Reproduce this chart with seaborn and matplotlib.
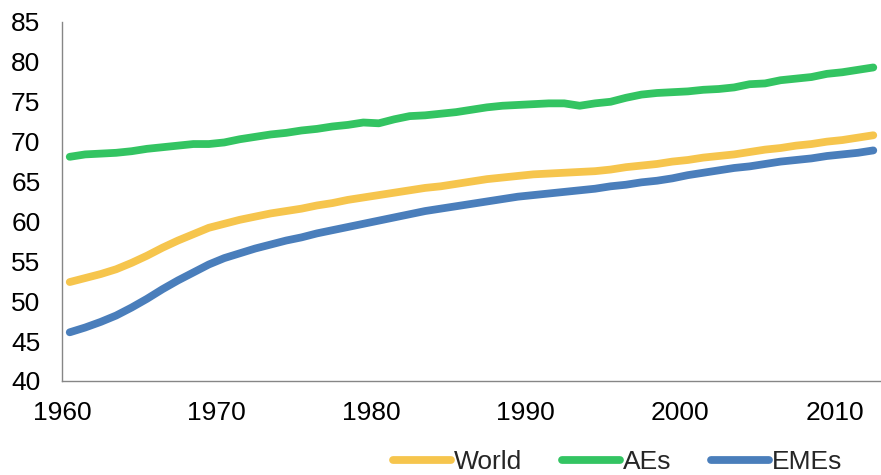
import numpy as np
import pandas as pd
import seaborn as sns
import matplotlib.pyplot as plt

# life expectancy, years 1960-2012
years = list(range(1960, 2013))

world = [52.4, 52.9, 53.4, 54.0, 54.8, 55.7, 56.7, 57.6, 58.4, 59.2,
         59.7, 60.2, 60.6, 61.0, 61.3, 61.6, 62.0, 62.3, 62.7, 63.0,
         63.3, 63.6, 63.9, 64.2, 64.4, 64.7, 65.0, 65.3, 65.5, 65.7,
         65.9, 66.0, 66.1, 66.2, 66.3, 66.5, 66.8, 67.0, 67.2, 67.5,
         67.7, 68.0, 68.2, 68.4, 68.7, 69.0, 69.2, 69.5, 69.7, 70.0,
         70.2, 70.5, 70.8]

aes = [68.1, 68.4, 68.5, 68.6, 68.8, 69.1, 69.3, 69.5, 69.7, 69.7,
       69.9, 70.3, 70.6, 70.9, 71.1, 71.4, 71.6, 71.9, 72.1, 72.4,
       72.3, 72.8, 73.2, 73.3, 73.5, 73.7, 74.0, 74.3, 74.5, 74.6,
       74.7, 74.8, 74.8, 74.5, 74.8, 75.0, 75.5, 75.9, 76.1, 76.2,
       76.3, 76.5, 76.6, 76.8, 77.2, 77.3, 77.7, 77.9, 78.1, 78.5,
       78.7, 79.0, 79.3]

emes = [46.1, 46.7, 47.4, 48.2, 49.2, 50.3, 51.5, 52.6, 53.6, 54.6,
        55.4, 56.0, 56.6, 57.1, 57.6, 58.0, 58.5, 58.9, 59.3, 59.7,
        60.1, 60.5, 60.9, 61.3, 61.6, 61.9, 62.2, 62.5, 62.8, 63.1,
        63.3, 63.5, 63.7, 63.9, 64.1, 64.4, 64.6, 64.9, 65.1, 65.4,
        65.8, 66.1, 66.4, 66.7, 66.9, 67.2, 67.5, 67.7, 67.9, 68.2,
        68.4, 68.6, 68.9]

series = ['World', 'AEs', 'EMEs']
colors = ['#F6C54D', '#33C462', '#4A7EBB']
decades = [1960, 1970, 1980, 1990, 2000, 2010]

df = pd.DataFrame({'year': years, 'World': world, 'AEs': aes, 'EMEs': emes})
df = df.melt(id_vars='year', var_name='series', value_name='value')

sns.set_style('white')
plt.rcParams['font.family'] = ['Liberation Sans', 'DejaVu Sans']

fig, ax = plt.subplots(figsize=(8.81, 4.75), dpi=100)
fig.subplots_adjust(left=0.0704, right=1.0, top=0.9537, bottom=0.198)

sns.lineplot(data=df, x='year', y='value', hue='series', hue_order=series,
             palette=colors, linewidth=5.6, legend=False, ax=ax,
             solid_capstyle='round')

# Excel-style category axis: ticks sit between categories
ax.set_xlim(1959.5, 2012.5)
ax.set_xticks([d - 0.5 for d in decades])
ax.set_xticklabels([str(d) for d in decades])
ax.set_ylim(40, 85)
ax.set_yticks(range(40, 90, 5))
ax.set_xlabel('')
ax.set_ylabel('')

for side in ['top', 'right']:
    ax.spines[side].set_visible(False)
for side in ['left', 'bottom']:
    ax.spines[side].set_color('#868686')
    ax.spines[side].set_linewidth(1.0)

ax.tick_params(axis='both', direction='out', length=5.5, width=1.0,
               color='#868686', labelsize=19, labelcolor='black')
ax.tick_params(axis='y', pad=10)
ax.tick_params(axis='x', pad=9)

fig.legend(ax.lines, series, loc='center', bbox_to_anchor=(0.701, 0.027),
           ncol=3, frameon=False, fontsize=19, handlelength=2.2,
           handletextpad=0.12, columnspacing=1.5, borderpad=0)

fig.savefig('out.png', dpi=100)
